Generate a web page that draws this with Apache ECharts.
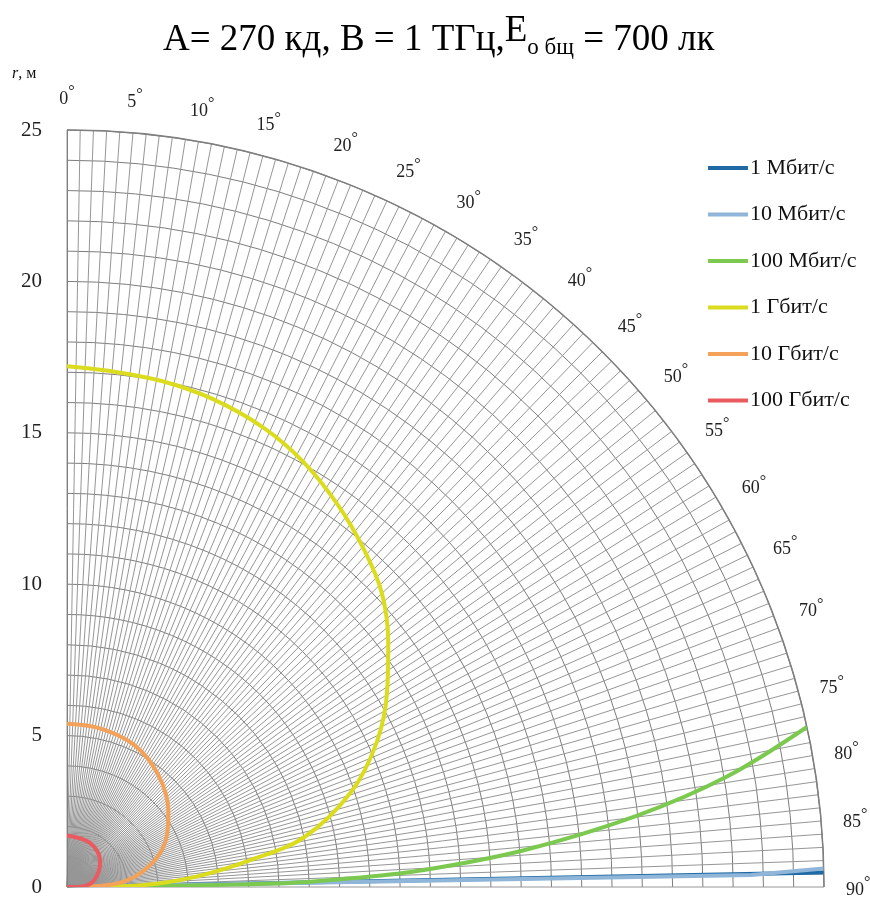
<!DOCTYPE html>
<html><head><meta charset="utf-8">
<script src="https://cdn.jsdelivr.net/npm/echarts@6/dist/echarts.min.js"></script>
<style>html,body{margin:0;padding:0;background:#fff}#c{width:870px;height:897px}</style>
</head><body><div id="c"></div><script>
// ---- data (angle in degrees from vertical, radius in metres) ----
const seriesNames = ['1 Мбит/с', '10 Мбит/с', '100 Мбит/с', '1 Гбит/с', '10 Гбит/с', '100 Гбит/с'];
const seriesColors = ['#1f6aa5', '#8fb6d8', '#7cc94f', '#dcdc1e', '#f4a259', '#ea5a5e'];

const mbit1Deg = [90, 88.9];
const mbit1R   = [0, 25];

const mbit10Deg = [90, 89.0, 88.6];
const mbit10R   = [0, 22.6, 25];

const mbit100Deg = [77.8, 80.5, 82.9, 85.4, 87.3, 88.2, 89.0, 90];
const mbit100R   = [25.0, 22.1, 18.93, 15.14, 11.75, 9.5, 7.15, 0];

const gbit1Deg = [0, 4.8, 10.6, 16.6, 23.1, 29.1, 35.3, 41.5, 47.0, 52.8, 58.7, 64.9, 71.4, 78.2, 81.7, 85.5, 88.5, 90];
const gbit1R   = [17.2, 17.1, 17.0, 16.82, 16.5, 16.06, 15.47, 14.83, 14.22, 13.32, 12.37, 11.30, 9.92, 7.99, 6.10, 4.24, 2.55, 0];

const gbit10Deg = [0, 12, 25.3, 39.0, 53.2, 63.5, 73.1, 83.5, 89, 90];
const gbit10R   = [5.39, 5.35, 5.19, 4.78, 4.18, 3.67, 3.03, 2.02, 0.8, 0];

const gbit100Deg = [0, 27.5, 51.6, 76.3, 88.7, 90];
const gbit100R   = [1.70, 1.64, 1.40, 0.92, 0.44, 0];

const radiusTicks = [0, 5, 10, 15, 20, 25];
const angleTicks = [0, 5, 10, 15, 20, 25, 30, 35, 40, 45, 50, 55, 60, 65, 70, 75, 80, 85, 90];

const titleMain = 'A= 270 кд, B = 1 ТГц,';
const titleE = 'E';
const titleSub = 'о бщ';
const titleEnd = ' = 700 лк';
const radiusName = 'r';
const radiusUnit = ', м';

// ---- chart ----
const SERIF = 'Liberation Serif';
const allDeg = [mbit1Deg, mbit10Deg, mbit100Deg, gbit1Deg, gbit10Deg, gbit100Deg];
const allR = [mbit1R, mbit10R, mbit100R, gbit1R, gbit10R, gbit100R];

const series = seriesNames.map((name, i) => ({
  name,
  type: 'line',
  coordinateSystem: 'polar',
  symbol: 'none',
  smooth: (i >= 2) ? 0.35 : false,
  color: seriesColors[i],
  lineStyle: { width: 4, color: seriesColors[i] },
  data: allR[i].map((r, k) => [r, allDeg[i][k]]),
  z: 3 + i
}));

const chart = echarts.init(document.getElementById('c'));
chart.setOption({
  backgroundColor: '#fff',
  animation: false,
  title: {
    left: 158, top: 8,
    text: '{main|' + titleMain + '}{big|' + titleE + '}{sub|' + titleSub + '}{main|' + titleEnd + '}',
    textStyle: {
      fontFamily: SERIF, fontWeight: 'normal', color: '#000', fontSize: 37,
      rich: {
        main: { fontFamily: SERIF, fontWeight: 'normal', color: '#000', fontSize: 37, lineHeight: 38, verticalAlign: 'bottom' },
        big: { fontFamily: SERIF, fontWeight: 'normal', color: '#000', fontSize: 37, lineHeight: 46, verticalAlign: 'top' },
        sub: { fontFamily: SERIF, fontWeight: 'normal', color: '#000', fontSize: 23, lineHeight: 30, verticalAlign: 'bottom' }
      }
    }
  },
  legend: {
    orient: 'vertical',
    left: 703, top: 152,
    itemWidth: 40, itemHeight: 4, itemGap: 24.5,
    icon: 'rect',
    textStyle: { fontFamily: SERIF, fontSize: 22, color: '#111', lineHeight: 22, padding: [0, 0, 0, -3] },
    data: seriesNames
  },
  graphic: [{
    type: 'text', left: 12, top: 66,
    style: {
      text: '{i|' + radiusName + '}{t|' + radiusUnit + '}',
      rich: {
        i: { fontFamily: SERIF, fontStyle: 'italic', fontSize: 16, fill: '#111' },
        t: { fontFamily: SERIF, fontSize: 16, fill: '#111' }
      }
    }
  }],
  polar: { center: [67, 887], radius: 757 },
  angleAxis: {
    type: 'value', min: 0, max: 90, interval: 1,
    startAngle: 90, endAngle: 0, clockwise: true,
    axisLine: { show: true, lineStyle: { color: '#7f7f7f', width: 1.5 } },
    axisTick: { show: false },
    splitLine: { show: true, lineStyle: { color: '#969696', width: 1 } },
    axisLabel: {
      margin: 22,
      formatter: v => angleTicks.includes(v) ? '{n|' + v + '}{d|°}' : '',
      rich: {
        n: { fontFamily: SERIF, fontSize: 18, color: '#222', lineHeight: 24, verticalAlign: 'bottom' },
        d: { fontFamily: SERIF, fontSize: 16, color: '#222', lineHeight: 14, verticalAlign: 'top' }
      }
    }
  },
  radiusAxis: {
    type: 'value', min: 0, max: 25, interval: 1,
    axisLine: { show: true, lineStyle: { color: '#7f7f7f', width: 1 } },
    axisTick: { show: false },
    splitLine: { show: true, lineStyle: { color: '#7d7d7d', width: 1 } },
    axisLabel: {
      margin: 25,
      fontFamily: SERIF, fontSize: 21, color: '#222',
      formatter: v => radiusTicks.includes(v) ? String(v) : ''
    }
  },
  series
});
</script></body></html>
